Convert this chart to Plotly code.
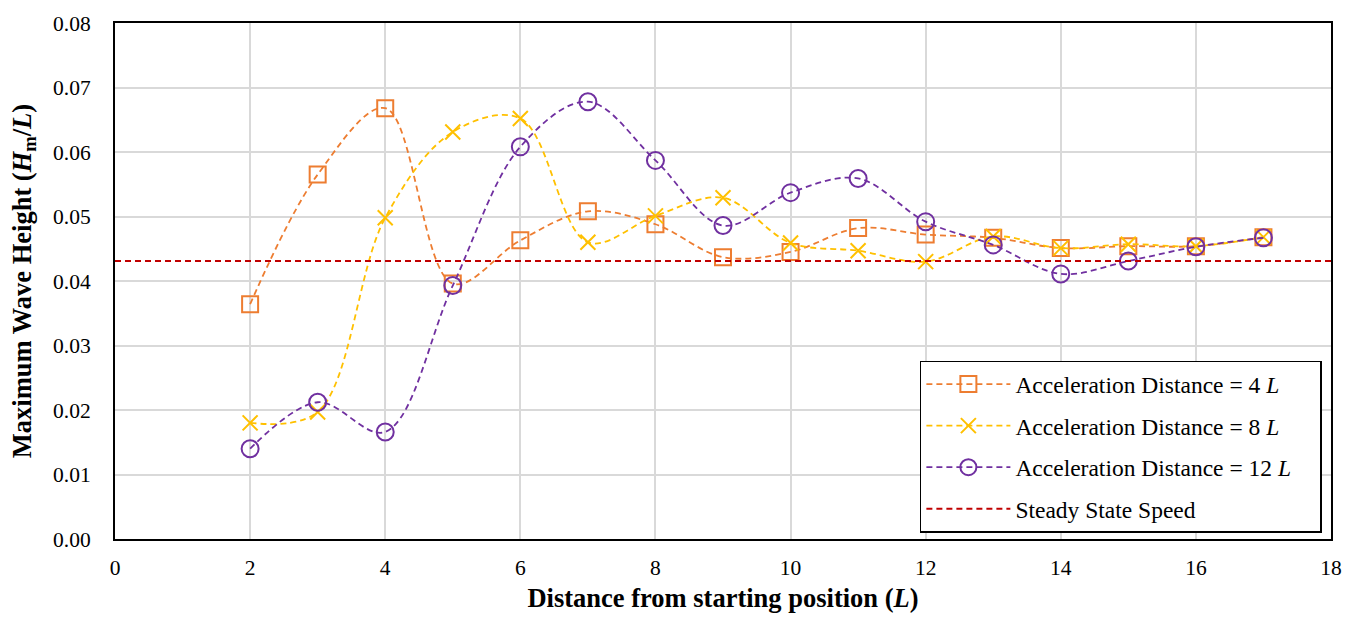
import plotly.graph_objects as go

x_pos = [2, 3, 4, 5, 6, 7, 8, 9, 10, 11, 12, 13, 14, 15, 16, 17]
acc_4L = [0.0364, 0.0565, 0.0668, 0.0396, 0.0463, 0.0508, 0.0488, 0.0437, 0.0445, 0.0482, 0.0472, 0.0467, 0.0451, 0.0454, 0.0454, 0.0468]
acc_8L = [0.0180, 0.0197, 0.0498, 0.0631, 0.0652, 0.0460, 0.0501, 0.0529, 0.0459, 0.0447, 0.0430, 0.0469, 0.0451, 0.0457, 0.0454, 0.0468]
acc_12L = [0.0140, 0.0212, 0.0166, 0.0393, 0.0608, 0.0678, 0.0587, 0.0486, 0.0537, 0.0559, 0.0492, 0.0456, 0.0411, 0.0431, 0.0453, 0.0467]
steady_x = [0, 18]
steady_y = [0.0431, 0.0431]

x_ticks = [0, 2, 4, 6, 8, 10, 12, 14, 16, 18]
y_ticks = [0.00, 0.01, 0.02, 0.03, 0.04, 0.05, 0.06, 0.07, 0.08]

FONT = "Liberation Serif"
PAD = "\u00a0" * 4

fig = go.Figure()

series = [
    ("Acceleration Distance = 4 <i>L</i>" + PAD, acc_4L, "#ED7D31", "square-open", 16),
    ("Acceleration Distance = 8 <i>L</i>" + PAD, acc_8L, "#FFC000", "x-thin-open", 15),
    ("Acceleration Distance = 12 <i>L</i>" + PAD, acc_12L, "#7030A0", "circle-open", 17),
]
for i, (name, ys, col, sym, sz) in enumerate(series):
    fig.add_trace(go.Scatter(
        x=x_pos, y=ys, name=name, mode="lines+markers",
        line=dict(color=col, width=1.8, dash="6px,4px", shape="spline", smoothing=1.0),
        marker=dict(symbol=sym, size=sz, color=col, line=dict(color=col, width=2)),
        legendgroup=f"g{i}",
    ))

fig.add_trace(go.Scatter(
    x=steady_x, y=steady_y, name="Steady State Speed", mode="lines",
    line=dict(color="#C00000", width=1.8, dash="6px,4px"),
    legendgroup="g3",
))

axis_common = dict(
    showgrid=True, gridcolor="#D9D9D9", gridwidth=2,
    showline=True, linecolor="black", linewidth=2, mirror=True,
    ticks="", zeroline=False,
    tickfont=dict(family=FONT, size=21.5, color="black"),
)

fig.update_layout(
    width=1360, height=620,
    margin=dict(l=115, r=29, t=17, b=79),
    plot_bgcolor="white", paper_bgcolor="white",
    font=dict(family=FONT, color="black"),
    xaxis=dict(range=[0, 18], tickvals=x_ticks, ticktext=[str(v) for v in x_ticks],
               ticklabelstandoff=8,
               title=dict(text="<b>Distance from starting position (<i>L</i>)</b>",
                          font=dict(family=FONT, size=26.5), standoff=10),
               **axis_common),
    yaxis=dict(range=[0, 0.08], tickvals=y_ticks, ticktext=[f"{v:.2f}" for v in y_ticks],
               ticklabelstandoff=18,
               title=dict(text="<b>Maximum Wave Height (<i>H</i><sub>m</sub>/<i>L</i>)</b>",
                          font=dict(family=FONT, size=26.5), standoff=14),
               **axis_common),
    legend=dict(
        x=0.9925, y=0.012, xanchor="right", yanchor="bottom",
        bgcolor="white", bordercolor="black", borderwidth=1.5,
        font=dict(family=FONT, size=23.5, color="black"),
        tracegroupgap=8, itemwidth=84,
    ),
    showlegend=True,
)

fig.write_html("out.html")
